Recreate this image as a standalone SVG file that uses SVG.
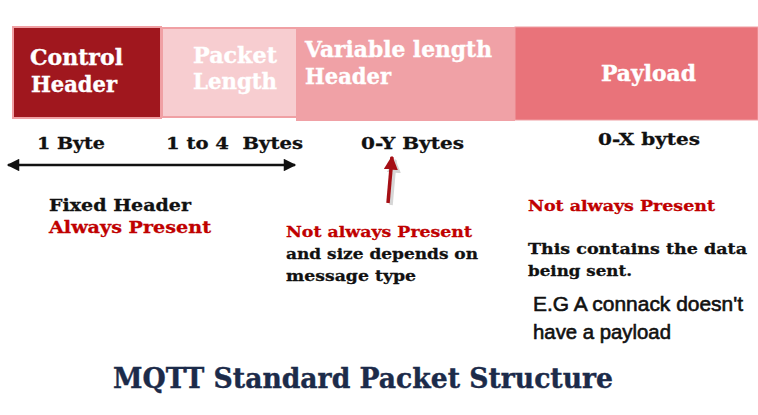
<svg xmlns="http://www.w3.org/2000/svg" width="758" height="415" viewBox="0 0 758 415">
<style>
.b{font-family:"DejaVu Serif","Liberation Serif",serif;font-weight:bold}
.w{fill:#ffffff;stroke:#ffffff;stroke-width:0.4}
.k{fill:#111111;stroke:#111111;stroke-width:0.3}
.r{fill:#c00000;stroke:#c00000;stroke-width:0.3}
.t{fill:#1c2b4a;stroke:#1c2b4a;stroke-width:0.4}
.s{font-family:"Liberation Sans",Arial,sans-serif;font-weight:normal;fill:#111111;stroke:#111111;stroke-width:0.6}
</style>
<defs>
<marker id="ah" viewBox="0 0 10 10" refX="9" refY="5" markerWidth="6" markerHeight="5" orient="auto-start-reverse" markerUnits="strokeWidth">
<path d="M0,0 L10,5 L0,10 Z" fill="#111"/>
</marker>
<marker id="rh" viewBox="0 0 10 10" refX="9" refY="5" markerWidth="4" markerHeight="4.2" orient="auto" markerUnits="strokeWidth">
<path d="M0,0 L10,5 L0,10 Z" fill="#a50f15"/>
</marker>
<marker id="gh" viewBox="0 0 10 10" refX="9" refY="5" markerWidth="4" markerHeight="4.2" orient="auto" markerUnits="strokeWidth">
<path d="M0,0 L10,5 L0,10 Z" fill="#cccccc"/>
</marker>
</defs>
<rect width="758" height="415" fill="#ffffff"/>
<g id="control-header">
<rect x="13" y="27" width="148" height="91" fill="#a0171e" stroke="#f0a0a4" stroke-width="2"/>
<text class="b w" x="30" y="65" font-size="23" textLength="93" lengthAdjust="spacingAndGlyphs">Control</text>
<text class="b w" x="31" y="92" font-size="23" textLength="86" lengthAdjust="spacingAndGlyphs">Header</text>
</g>
<g id="packet-length">
<rect x="162" y="28" width="135" height="89" fill="#f7cdd0" stroke="#f0a0a4" stroke-width="2"/>
<text class="b w" x="193" y="63" font-size="23" textLength="84" lengthAdjust="spacingAndGlyphs">Packet</text>
<text class="b w" x="193" y="89" font-size="23" textLength="84" lengthAdjust="spacingAndGlyphs">Length</text>
</g>
<g id="variable-header">
<rect x="296" y="27" width="219" height="94" fill="#f0a1a6"/>
<text class="b w" x="305" y="57" font-size="22" textLength="187" lengthAdjust="spacingAndGlyphs">Variable length</text>
<text class="b w" x="305" y="84" font-size="22" textLength="86" lengthAdjust="spacingAndGlyphs">Header</text>
</g>
<g id="payload">
<rect x="515" y="27" width="243" height="93" fill="#e9737a" stroke="#f0a0a4" stroke-width="1"/>
<text class="b w" x="601" y="81" font-size="22" textLength="95" lengthAdjust="spacingAndGlyphs">Payload</text>
</g>
<g id="size-labels">
<text class="b k" x="37" y="149" font-size="17.5" textLength="68" lengthAdjust="spacingAndGlyphs">1 Byte</text>
<text class="b k" x="166" y="149" font-size="17.5" textLength="137" lengthAdjust="spacingAndGlyphs" xml:space="preserve">1 to 4  Bytes</text>
<text class="b k" x="361" y="149" font-size="17.5" textLength="103" lengthAdjust="spacingAndGlyphs">0-Y Bytes</text>
<text class="b k" x="598" y="145" font-size="17.5" textLength="102" lengthAdjust="spacingAndGlyphs">0-X bytes</text>
</g>
<g id="connectors">
<line x1="8" y1="165" x2="295" y2="165" stroke="#111" stroke-width="2.5" marker-start="url(#ah)" marker-end="url(#ah)"/>
<line x1="391" y1="205" x2="395" y2="160" stroke="#cccccc" stroke-width="3.5" marker-end="url(#gh)" opacity="0.8"/>
<line x1="388" y1="203" x2="392" y2="157" stroke="#a50f15" stroke-width="3.5" marker-end="url(#rh)"/>
</g>
<g id="fixed-header-note">
<text class="b k" x="49" y="211" font-size="17.5" textLength="142" lengthAdjust="spacingAndGlyphs">Fixed Header</text>
<text class="b r" x="49" y="233" font-size="17.5" textLength="162" lengthAdjust="spacingAndGlyphs">Always Present</text>
</g>
<g id="variable-note">
<text class="b r" x="286" y="237" font-size="15.5" textLength="186" lengthAdjust="spacingAndGlyphs">Not always Present</text>
<text class="b k" x="286" y="259" font-size="15.5" textLength="192" lengthAdjust="spacingAndGlyphs">and size depends on</text>
<text class="b k" x="286" y="281" font-size="15.5" textLength="130" lengthAdjust="spacingAndGlyphs">message type</text>
</g>
<g id="payload-note">
<text class="b r" x="528" y="211" font-size="15.5" textLength="187" lengthAdjust="spacingAndGlyphs">Not always Present</text>
<text class="b k" x="528" y="254" font-size="15.5" textLength="219" lengthAdjust="spacingAndGlyphs">This contains the data</text>
<text class="b k" x="528" y="276" font-size="15.5" textLength="104" lengthAdjust="spacingAndGlyphs">being sent.</text>
<text class="s" x="533" y="311" font-size="20.5" textLength="210" lengthAdjust="spacingAndGlyphs">E.G A connack doesn't</text>
<text class="s" x="533" y="339" font-size="20.5" textLength="138" lengthAdjust="spacingAndGlyphs">have a payload</text>
</g>
<g id="title">
<text class="b t" x="113" y="388" font-size="27" textLength="500" lengthAdjust="spacingAndGlyphs">MQTT Standard Packet Structure</text>
</g>
</svg>
